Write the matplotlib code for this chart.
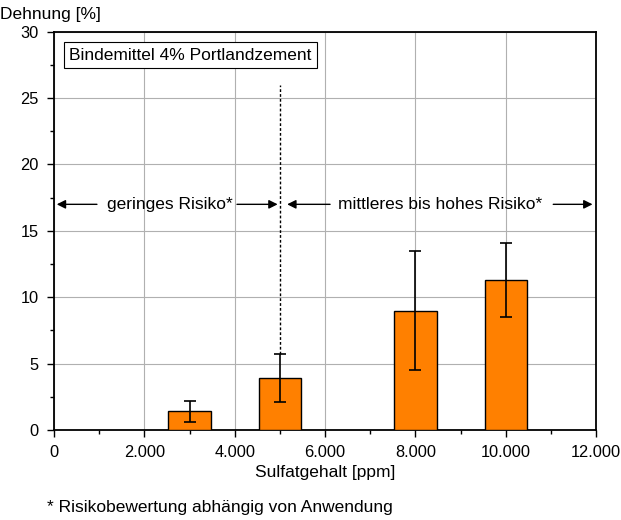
import matplotlib
matplotlib.use('Agg')
import matplotlib.pyplot as plt
from matplotlib.ticker import MultipleLocator, FuncFormatter

plt.rcParams['font.family'] = ['Liberation Sans', 'DejaVu Sans']
plt.rcParams['font.size'] = 12.5

# Data
sulfate = [3000, 5000, 8000, 10000]
strain = [1.4, 3.9, 9.0, 11.3]
err_low = [0.6, 2.1, 4.5, 8.5]
err_high = [2.2, 5.7, 13.5, 14.1]
risk_boundary = 5000
x_max = 12000
y_max = 30

fig = plt.figure(figsize=(6.21, 5.2), dpi=100)
ax = fig.add_axes([0.087, 0.173, 0.873, 0.766])

yerr = [[s - lo for s, lo in zip(strain, err_low)],
        [hi - s for s, hi in zip(strain, err_high)]]
ax.bar(sulfate, strain, width=940, color='#ff8000', edgecolor='black', linewidth=1, zorder=3)
ax.errorbar(sulfate, strain, yerr=yerr, fmt='none', ecolor='black', elinewidth=1.2,
            capsize=4, capthick=1.2, zorder=4)

ax.set_xlim(0, x_max)
ax.set_ylim(0, y_max)
ax.xaxis.set_major_locator(MultipleLocator(2000))
ax.xaxis.set_minor_locator(MultipleLocator(1000))
ax.yaxis.set_major_locator(MultipleLocator(5))
ax.yaxis.set_minor_locator(MultipleLocator(2.5))
ax.xaxis.set_major_formatter(FuncFormatter(lambda v, p: f"{int(v):,}".replace(',', '.')))
ax.tick_params(which='major', direction='out', length=5, width=1, pad=6, labelsize=11.8)
ax.tick_params(which='minor', direction='out', length=3, width=1)
ax.grid(True, which='major', color='#b0b0b0', linewidth=0.8, zorder=0)
ax.set_axisbelow(True)
for sp in ax.spines.values():
    sp.set_linewidth(1.3)

# Risk boundary
ax.plot([risk_boundary, risk_boundary], [err_high[1], 26], color='black',
        linestyle=(0, (2, 1.5)), linewidth=1, zorder=5)

# Risk annotations
arrow_y = 17
ap = dict(arrowstyle='-|>', color='black', linewidth=1, mutation_scale=13, shrinkA=0, shrinkB=0)
ax.text(2570, arrow_y, 'geringes Risiko*', ha='center', va='center', zorder=6)
ax.annotate('', xy=(60, arrow_y), xytext=(950, arrow_y), arrowprops=ap)
ax.annotate('', xy=(4950, arrow_y), xytext=(4050, arrow_y), arrowprops=ap)
ax.text(8550, arrow_y, 'mittleres bis hohes Risiko*', ha='center', va='center', zorder=6)
ax.annotate('', xy=(5160, arrow_y), xytext=(6110, arrow_y), arrowprops=ap)
ax.annotate('', xy=(11920, arrow_y), xytext=(11050, arrow_y), arrowprops=ap)

ax.text(0.028, 0.96, 'Bindemittel 4% Portlandzement', transform=ax.transAxes,
        ha='left', va='top', zorder=6,
        bbox=dict(boxstyle='square,pad=0.32', facecolor='white', edgecolor='black', linewidth=0.8))

fig.text(0.0, 0.973, 'Dehnung [%]', ha='left', va='center')
fig.text(0.523, 0.092, 'Sulfatgehalt [ppm]', ha='center', va='center')
fig.text(0.076, 0.024, '* Risikobewertung abhängig von Anwendung', ha='left', va='center')

fig.savefig('out.png', dpi=100)
